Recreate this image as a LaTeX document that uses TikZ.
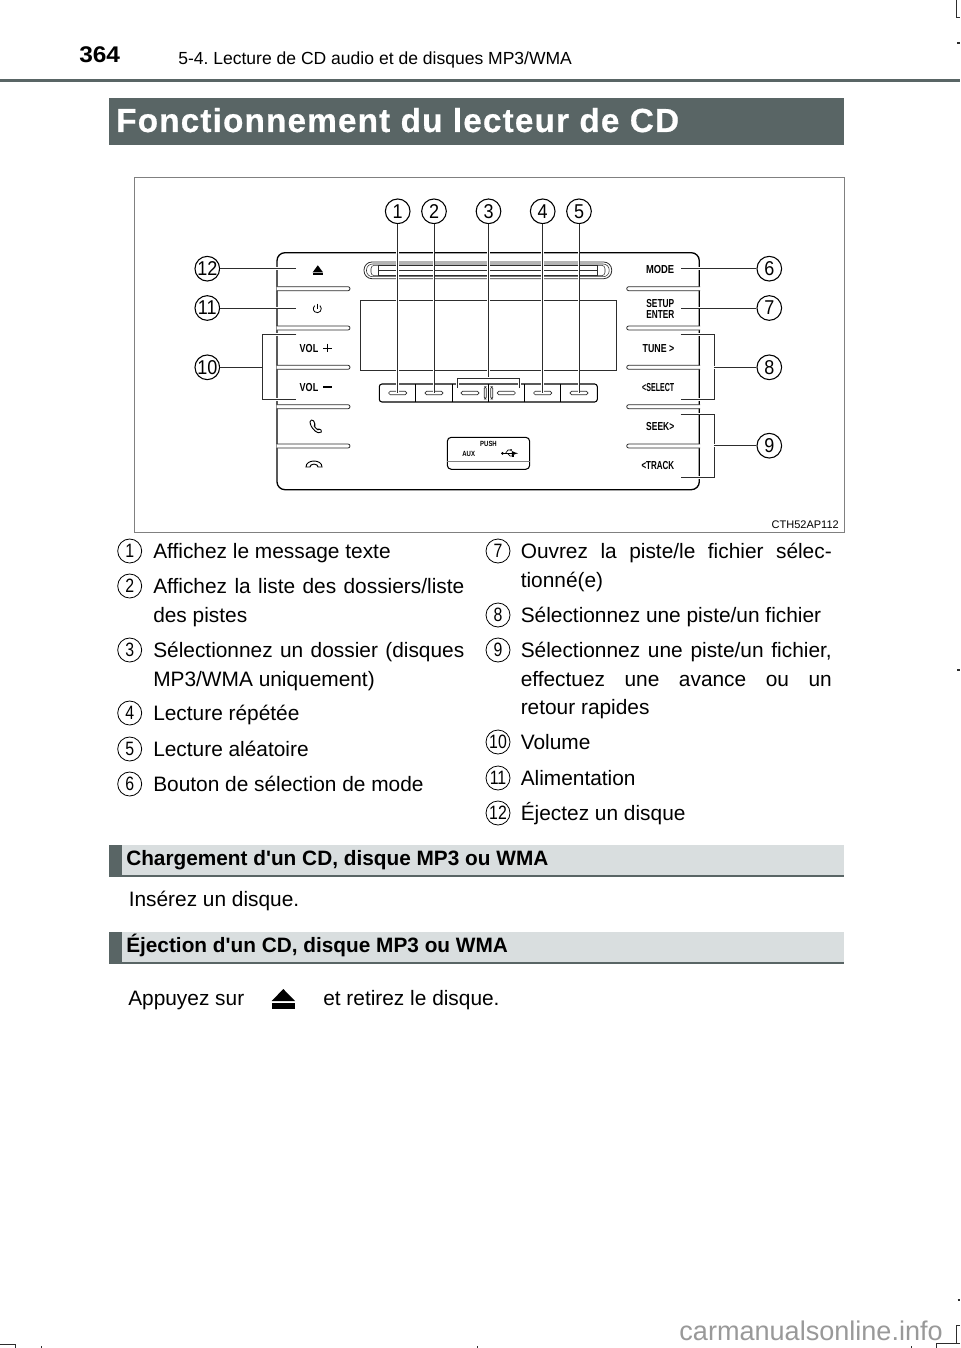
\documentclass[tikz,border=0pt]{standalone}
\usepackage{xcolor}
\usepackage{graphicx}
\usepackage{fontspec}
\usetikzlibrary{positioning}
\setmainfont{Liberation Sans}
\newfontfamily\calloutfont[FakeStretch=0.9]{Liberation Sans}
\newfontfamily\numfont[FakeStretch=0.82]{Liberation Sans}
\newfontfamily\titlefont[LetterSpace=3.4,FakeBold=0.5]{Liberation Sans}
\newfontfamily\secfont{Liberation Sans}
\definecolor{slategrey}{RGB}{89,101,101}
\definecolor{barfill}{RGB}{217,222,223}
\definecolor{inkgrey}{RGB}{45,45,45}
\newcommand{\pxsize}[2]{\fontsize{#1}{#2}\selectfont}
\newcommand{\fullline}[1]{\makebox[233.25pt][s]{#1}}
\newcommand{\squeezed}[2]{\scalebox{#1}[1]{#2}}
\tikzset{
  leader/.style={draw=inkgrey, line width=0.75pt, preaction={draw=white, line width=2.2pt}},
  callout/.style={circle, draw=black, line width=0.8pt, fill=white, minimum size=18.5pt, inner sep=0pt, font=\pxsize{15}{15}\calloutfont},
  listnum/.style={circle, draw=black, line width=0.6pt, fill=white, minimum size=18pt, inner sep=0pt, font=\pxsize{14.5}{14.5}\numfont},
  itemtext/.style={anchor=base west, inner sep=0pt, align=left, font=\pxsize{15.65}{21.75}\frenchspacing},
  panelbtn/.style={anchor=mid east, inner sep=0pt, font=\pxsize{8.7}{8.7}\bfseries},
  divider/.style={draw=inkgrey, line width=0.6pt, fill=white, rounded corners=1.5pt},
  capsule/.style={draw=inkgrey, line width=0.5pt, fill=white, rounded corners=1.2pt},
  sectitle/.style={anchor=base west, inner sep=0pt, font=\pxsize{15.6}{16}\secfont\bfseries},
  cropmark/.style={draw=inkgrey, line width=0.6pt}
}
\begin{document}
\begin{tikzpicture}[x=0.75pt, y=-0.75pt]
  \useasboundingbox (0,0) rectangle (960,1348);
  \fill[white] (0,0) rectangle (960,1348);
  % Page header
  \node[anchor=base west, inner sep=0pt, font=\pxsize{17}{18}\bfseries] (pagenum) at (79,63) {\scalebox{1.08}[1]{364}};
  \node[anchor=base west, inner sep=0pt, font=\pxsize{13.15}{16}\frenchspacing] (headline) at (178,65) {5-4. Lecture de CD audio et de disques MP3/WMA};
  \fill[slategrey] (0,79.5) rectangle (960,82);
  % Title bar
  \fill[slategrey] (109,98) rectangle (844,145);
  \node[anchor=base west, inner sep=0pt, text=white, font=\pxsize{25}{25}\titlefont\bfseries] (pagetitle) at (116,132) {Fonctionnement du lecteur de CD};
  % Picture frame
  \draw[draw=gray, line width=0.75pt] (134,178) rectangle (844,532);
  \node[anchor=base east, inner sep=0pt, font=\pxsize{8.25}{10}] (refcode) at (839,528) {CTH52AP112};
  % Radio front
  \draw[draw=black, line width=1pt, rounded corners=6pt] (277,252.7) rectangle (699.3,489.7);
  % Left and right dividers
  \foreach \y in {288.7, 328, 367.3, 406.7, 446} {
      \draw[divider] (276.5,\y-2) -- (350,\y-2) -- (350,\y+2) -- (276.5,\y+2);
      \draw[divider] (700,\y-2) -- (626.7,\y-2) -- (626.7,\y+2) -- (700,\y+2);
  }
  % Disc slot
  \draw[draw=inkgrey, line width=0.6pt, rounded corners=6pt] (364,262) rectangle (611.7,278.7);
  \draw[draw=inkgrey, line width=0.4pt, rounded corners=4.5pt] (366.5,264) rectangle (609.2,276.7);
  \foreach \y in {265.3, 270.3, 275.7} {
      \draw[draw=inkgrey, line width=0.4pt] (378.7,\y) -- (597.2,\y);
  }
  \draw[draw=inkgrey, line width=0.4pt, rounded corners=2.5pt] (378.7,265.3) -- (371,265.3) -- (371,275.7) -- (378.7,275.7);
  \draw[draw=inkgrey, line width=0.4pt, rounded corners=2.5pt] (597.2,265.3) -- (605,265.3) -- (605,275.7) -- (597.2,275.7);
  \draw[draw=inkgrey, line width=0.4pt] (378.7,265.3) -- (378.7,275.7);
  \draw[draw=inkgrey, line width=0.4pt] (597.2,265.3) -- (597.2,275.7);
  % Display
  \draw[draw=inkgrey, line width=0.6pt] (360,300) rectangle (616.7,370.7);
  % Button strip
  \draw[draw=black, line width=0.8pt, rounded corners=2pt] (379.3,384) rectangle (597.3,402);
  \foreach \x in {415.3, 452, 488, 524.3, 560.7} {
      \draw[draw=black, line width=0.7pt] (\x,384) -- (\x,402);
  }
  \foreach \x in {397.7, 434, 470, 506.3, 542.7, 579} {
      \draw[capsule] (\x-9,391.2) rectangle (\x+9,394.8);
  }
  \draw[capsule] (484.3,386.7) rectangle (486.3,399);
  \draw[capsule] (490.7,386.7) rectangle (492.7,399);
  % AUX box
  \draw[draw=black, line width=0.8pt, rounded corners=3pt] (447.3,437.3) rectangle (529.7,469.3);
  \draw[draw=gray, line width=0.5pt] (447.3,461.3) -- (529.7,461.3);
  \node[inner sep=0pt, font=\pxsize{5.6}{6}\bfseries] (pushlabel) at (488.5,444) {\squeezed{0.8}{PUSH}};
  \node[inner sep=0pt, font=\pxsize{5.6}{6}\bfseries] (auxlabel) at (468.7,453.5) {\squeezed{0.8}{AUX}};
  % USB mark
  \fill[black] (502.5,453.3) circle (1.5);
  \draw[draw=black, line width=0.6pt, -latex] (502.5,453.3) -- (518,453.3);
  \draw[draw=black, line width=0.5pt] (505.5,453.3) -- (508,450) -- (511,450);
  \draw[draw=black, line width=0.5pt] (507.5,453.3) -- (510,456) -- (512.5,456);
  \fill[black] (511,450) circle (1);
  \fill[black] (512,455) rectangle (514,457);
  % Left symbols
  \node[inner sep=0pt, font=\pxsize{8.7}{8.7}\bfseries] (volup) at (309,348.5) {\squeezed{0.78}{VOL}};
  \node[inner sep=0pt, font=\pxsize{8.7}{8.7}\bfseries] (voldown) at (309,387.8) {\squeezed{0.78}{VOL}};
  \draw[draw=black, line width=0.7pt] (323.3,348) -- (332,348) (327.7,343.7) -- (327.7,352.3);
  \draw[draw=black, line width=0.9pt] (323.3,387) -- (332,387);
  \fill[black] (312.7,272.3) -- (323,272.3) -- (317.8,265.3) -- cycle;
  \fill[black] (312.7,273.3) rectangle (323,275.2);
  \draw[draw=black, line width=0.6pt] (319.87,305.64) arc (50:-230:3pt);
  \draw[draw=black, line width=0.6pt] (317.3,303.7) -- (317.3,309);
  \draw[draw=black, line width=0.7pt, rounded corners=1pt] (310,420.5) -- (313,419.7) -- (315.3,424.5) -- (314,426) -- (317.5,430) -- (319,428.7) -- (322.3,431) -- (320,433) -- (316,432) -- (311.5,427) -- (310,423) -- cycle;
  \draw[draw=black, line width=0.7pt] (306,467) .. controls (306,459) and (322,459) .. (322,467) -- (318,467) -- (317,465) .. controls (315,463.8) and (313,463.8) .. (311,465) -- (310,467) -- cycle;
  % Right labels
  \foreach \y/\txt/\nm/\sq in {270/MODE/mode/0.81, 303.7/SETUP/setup/0.72, 314.7/ENTER/enter/0.71, 348.7/TUNE >/tune/0.76, 388/<SELECT/select/0.61, 427.4/SEEK>/seek/0.73, 466/<TRACK/track/0.69} {
      \node[panelbtn] (\nm) at (674.5,\y) {\squeezed{\sq}{\txt}};
  }
  % Leaders to the top callouts
  \foreach \n/\x in {1/397.7, 2/434, 3/488.5, 4/542.7, 5/579} {
      \node[callout] (top\n) at (\x,211.3) {\n};
  }
  \coordinate (end1) at (397.7,393);
  \coordinate (end2) at (434,393);
  \coordinate (end3) at (488.5,378.3);
  \coordinate (end4) at (542.7,393);
  \coordinate (end5) at (579,393);
  \foreach \n in {1,...,5} {
      \draw[leader] (top\n) -- (end\n);
  }
  \coordinate (folderL) at (457.3,388);
  \coordinate (folderR) at (519.7,388);
  \draw[leader] (folderL) |- (end3) -| (folderR);
  % Side callouts
  \foreach \n/\y in {12/268.7, 11/308, 10/367.3} {
      \node[callout] (side\n) at (207.3,\y) {\n};
  }
  \foreach \n/\y in {6/268.7, 7/308, 8/367.3, 9/445.7} {
      \node[callout] (side\n) at (769.3,\y) {\n};
  }
  \coordinate (end12) at (296.3,268.7);
  \coordinate (end11) at (296.3,308);
  \coordinate (end6) at (680.7,268.7);
  \coordinate (end7) at (680.7,308);
  \foreach \n in {12,11,6,7} {
      \draw[leader] (side\n) -- (end\n);
  }
  % Brackets
  \coordinate (volA) at (296.3,334.7);
  \coordinate (volB) at (296.3,399.3);
  \coordinate (selA) at (680.7,334.7);
  \coordinate (selB) at (680.7,399.3);
  \coordinate (trkA) at (680.7,414);
  \coordinate (trkB) at (680.7,477.7);
  \draw[leader] (volA) -- (262.3,334.7) -- (262.3,399.3) -- (volB);
  \draw[leader] (side10) -- (262.3,367.3);
  \draw[leader] (selA) -- (714,334.7) -- (714,399.3) -- (selB);
  \draw[leader] (side8) -- (714,367.3);
  \draw[leader] (trkA) -- (714,414) -- (714,477.7) -- (trkB);
  \draw[leader] (side9) -- (714,445.7);
  % Left list
  \foreach \n/\y in {1/551, 2/586, 3/650, 4/713, 5/749, 6/784} {
      \node[listnum] (num\n) at (129.7,\y) {\n};
  }
  \node[itemtext] (item1) at (153,558) {Affichez le message texte};
  \node[itemtext] (item2) at (153,593) {\fullline{Affichez la liste des dossiers/liste}};
  \node[itemtext] (item2b) at (153,622) {des pistes};
  \node[itemtext] (item3) at (153,657) {\fullline{Sélectionnez un dossier (disques}};
  \node[itemtext] (item3b) at (153,686) {MP3/WMA uniquement)};
  \node[itemtext] (item4) at (153,720) {Lecture répétée};
  \node[itemtext] (item5) at (153,756) {Lecture aléatoire};
  \node[itemtext] (item6) at (153,791) {Bouton de sélection de mode};
  % Right list
  \foreach \n/\y in {7/551, 8/615, 9/650, 10/742, 11/778, 12/813} {
      \node[listnum] (num\n) at (498,\y) {\n};
  }
  \node[itemtext] (item7) at (520.5,558) {\fullline{Ouvrez la piste/le fichier sélec-}};
  \node[itemtext] (item7b) at (520.5,587) {tionné(e)};
  \node[itemtext] (item8) at (520.5,622) {Sélectionnez une piste/un fichier};
  \node[itemtext] (item9) at (520.5,657) {\fullline{Sélectionnez une piste/un fichier,}};
  \node[itemtext] (item9b) at (520.5,686) {\fullline{effectuez une avance ou un}};
  \node[itemtext] (item9c) at (520.5,714) {retour rapides};
  \node[itemtext] (item10) at (520.5,749) {Volume};
  \node[itemtext] (item11) at (520.5,785) {Alimentation};
  \node[itemtext] (item12) at (520.5,820) {Éjectez un disque};
  % Sections
  \foreach \y in {845, 932} {
      \fill[barfill] (109,\y) rectangle (844,\y+32);
      \fill[slategrey] (109,\y) rectangle (122,\y+32);
      \fill[slategrey] (109,\y+30) rectangle (844,\y+32);
  }
  \node[sectitle] (loadtitle) at (126,865) {Chargement d'un CD, disque MP3 ou WMA};
  \node[sectitle] (ejecttitle) at (126,952) {Éjection d'un CD, disque MP3 ou WMA};
  \node[itemtext] (insertline) at (128.5,906) {Insérez un disque.};
  \node[itemtext] (pressline) at (128,1005) {Appuyez sur};
  \node[itemtext] (removeline) at (323,1005) {et retirez le disque.};
  \fill[black] (271.7,1001) -- (295,1001) -- (283.3,989) -- cycle;
  \fill[black] (271.7,1003.3) rectangle (295,1009.3);
  % Print marks
  \draw[cropmark] (956,0) -- (956,17) -- (960,17);
  \draw[cropmark, line width=1.4pt] (957,43.3) -- (960,43.3);
  \draw[cropmark, line width=1.4pt] (957,670) -- (960,670);
  \draw[cropmark, line width=1pt] (957.7,1300) -- (960,1300);
  \draw[cropmark] (960,1325) -- (956.7,1325) -- (956.7,1343.3);
  \draw[cropmark] (960,1343.3) -- (936.7,1343.3) -- (936.7,1348);
  \draw[cropmark] (0,1344.7) -- (15.7,1344.7) -- (15.7,1348);
  \foreach \x in {41.7, 477, 911.7} {
      \draw[cropmark] (\x,1346) -- (\x,1348);
  }
  \node[anchor=base east, inner sep=0pt, text=gray!80, font=\pxsize{20.3}{20}] (watermark) at (943,1340) {carmanualsonline.info};
\end{tikzpicture}
\end{document}
